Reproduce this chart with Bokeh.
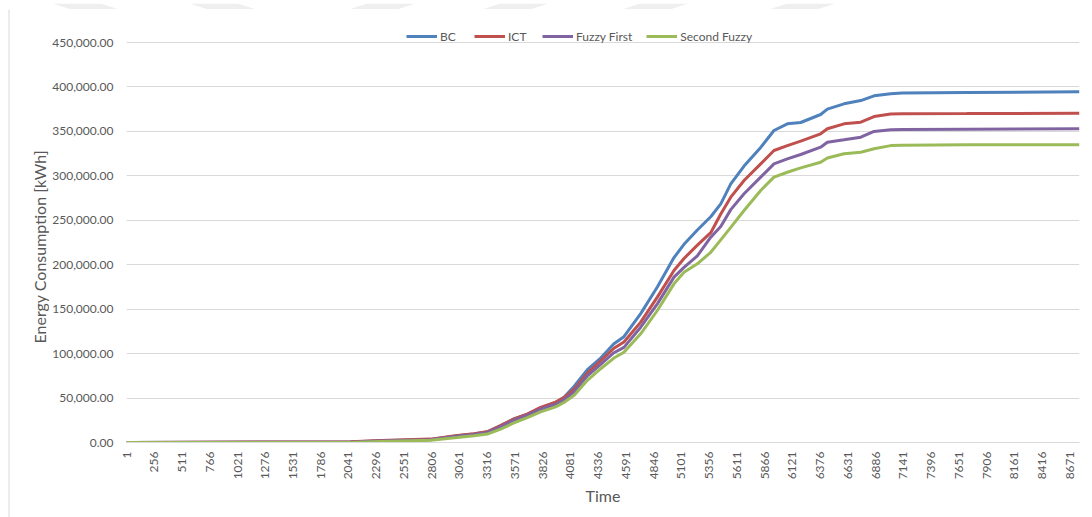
import math

from bokeh.plotting import figure
from bokeh.layouts import column, row
from bokeh.models import (Range1d, FixedTicker, NumeralTickFormatter, Legend,
                          LegendItem)
from bokeh.core.properties import value
from bokeh.embed import file_html
from bokeh.resources import INLINE

# Cumulative energy consumption over the hours of the year
hours = [1, 2060, 2336, 2796, 3041, 3194, 3317, 3439, 3562, 3685, 3807, 3945,
         4022, 4114, 4237, 4359, 4481, 4573, 4727, 4880, 5033, 5125, 5248,
         5371, 5463, 5555, 5677, 5830, 5952, 6075, 6198, 6381, 6443, 6596,
         6750, 6872, 7025, 7133, 7724, 8760]

bc = [0, 500, 2000, 3500, 7500, 9500, 12000, 19000, 26500, 32000, 39000,
      45000, 51000, 63000, 82000, 95000, 111000, 119000, 145000, 175000,
      208000, 223000, 239000, 254000, 268500, 291000, 311000, 332000, 351000,
      358500, 360000, 369000, 375000, 381000, 384700, 390000, 392300, 393300,
      393800, 394500]

ict = [0, 800, 2300, 3800, 7800, 9800, 12000, 19000, 26500, 32000, 39500,
       45500, 50500, 60000, 78000, 92000, 106000, 113000, 135400, 163500,
       193500, 207000, 222000, 236000, 257000, 276000, 294700, 313500, 328500,
       334000, 339000, 347300, 352900, 358500, 360400, 366700, 369500, 369800,
       370000, 370500]

fuzzy_first = [0, 300, 1800, 3200, 7000, 9000, 11000, 17500, 25000, 30500,
               37500, 43000, 48000, 57000, 75000, 88000, 101000, 107000,
               129700, 156000, 186000, 197000, 210000, 231000, 243000, 262000,
               279800, 298500, 313500, 319000, 324000, 332200, 337800, 340500,
               343500, 350000, 351800, 352000, 352500, 353000]

second_fuzzy = [0, 0, 1000, 2500, 5500, 7500, 9500, 15000, 22000, 28000,
                34500, 40000, 45000, 53000, 70000, 83000, 95000, 101600,
                122300, 148500, 178500, 191600, 201000, 214000, 228000,
                242000, 261000, 283500, 298500, 304000, 309000, 315300,
                320000, 324800, 326600, 330400, 334000, 334500, 335000,
                335000]

series_names = ["BC", "ICT", "Fuzzy First", "Second Fuzzy"]
series_values = [bc, ict, fuzzy_first, second_fuzzy]
series_colors = ["#4F81BD", "#C0504D", "#8064A2", "#9BBB59"]

x_ticks = list(range(1, 8761, 255))
y_ticks = list(range(0, 450001, 50000))

y_title = "Energy Consumption [kWh]"
x_title = "Time"

TEXT = "#595959"
GRID = "#D9D9D9"
FONT = "Lato"


def bare(fig):
    fig.axis.visible = False
    fig.grid.visible = False
    fig.outline_line_color = None
    return fig


# ---- thin strip across the top: page watermark and the chart frame edge ----
top = bare(figure(width=1092, height=9, x_range=Range1d(0, 1092),
                  y_range=Range1d(9, 0), toolbar_location=None,
                  output_backend="svg", min_border=0, frame_align=False))
marks_x = [[52, 100, 125, 77], [189, 237, 262, 214],
           [367, 415, 390, 342], [500, 548, 523, 475],
           [640, 688, 663, 615], [787, 835, 810, 762]]
marks_y = [[0, 0, 8, 8]] * len(marks_x)
top.patches(marks_x, marks_y, fill_color="#EFEFEF", line_color=None)
top.segment(x0=[8], y0=[8.5], x1=[1092], y1=[8.5], line_color=GRID,
            line_width=1)

# ---- left strip: frame edge and the vertical axis title ----
left = bare(figure(width=49, height=508, x_range=Range1d(0, 49),
                   y_range=Range1d(0, 508), toolbar_location=None,
                   output_backend="svg", min_border=0, frame_align=False))
left.segment(x0=[8.5], y0=[0], x1=[8.5], y1=[508], line_color=GRID,
             line_width=1)
left.text(x=[39], y=[174], text=[y_title], angle=math.pi / 2,
          text_align="left", text_baseline="middle",
          text_font=value(FONT), text_font_size="16px", text_color=TEXT)

# ---- main chart ----
p = figure(width=1043, height=508, toolbar_location=None,
           output_backend="svg", frame_align=False,
           x_range=Range1d(0.5, 8760.5), y_range=Range1d(0, 474750),
           min_border_left=77, min_border_right=13,
           min_border_top=11, min_border_bottom=75)
p.outline_line_color = None
p.background_fill_color = "white"
p.border_fill_color = "white"

renderers = []
for name, vals, col in zip(series_names, series_values, series_colors):
    r = p.line(hours, vals, line_color=col, line_width=3)
    renderers.append((name, r))

p.xgrid.visible = False
p.ygrid.grid_line_color = GRID
p.ygrid.grid_line_width = 1

p.yaxis.ticker = FixedTicker(ticks=y_ticks)
p.yaxis.formatter = NumeralTickFormatter(format="0,0.00")
p.yaxis.axis_line_color = None
p.yaxis.major_tick_line_color = None
p.yaxis.minor_tick_line_color = None
p.yaxis.major_tick_out = 0
p.yaxis.minor_tick_out = 0
p.yaxis.major_label_standoff = 13

p.xaxis.ticker = FixedTicker(ticks=x_ticks)
p.xaxis.axis_line_color = GRID
p.xaxis.major_tick_line_color = None
p.xaxis.minor_tick_line_color = None
p.xaxis.major_tick_out = 0
p.xaxis.minor_tick_out = 0
p.xaxis.major_label_orientation = math.pi / 2
p.xaxis.major_label_standoff = 9
p.xaxis.axis_label = x_title
p.xaxis.axis_label_standoff = 4

for ax in (p.xaxis, p.yaxis):
    ax.major_label_text_font = FONT
    ax.major_label_text_font_size = "12px"
    ax.major_label_text_color = TEXT
    ax.axis_label_text_font = FONT
    ax.axis_label_text_font_size = "16px"
    ax.axis_label_text_font_style = "normal"
    ax.axis_label_text_color = TEXT

legend = Legend(items=[LegendItem(label=n, renderers=[r]) for n, r in renderers],
                location=(280, 398), orientation="horizontal",
                glyph_width=31, glyph_height=16, label_height=16,
                label_standoff=3, spacing=14, padding=0, margin=0,
                border_line_alpha=0, background_fill_alpha=0,
                label_text_font=FONT, label_text_font_size="12px",
                label_text_color=TEXT)
p.add_layout(legend)

layout = column(top, row(left, p))

open("out.html", "w").write(file_html(layout, INLINE))
